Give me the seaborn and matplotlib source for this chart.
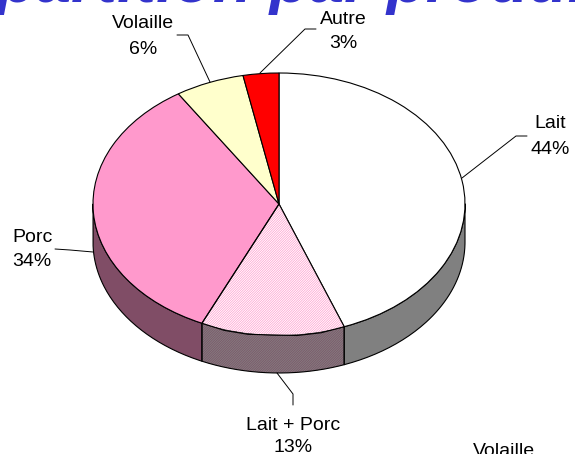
import numpy as np
import matplotlib
matplotlib.use('Agg')
import matplotlib.pyplot as plt
import seaborn as sns

sns.set_theme(style='white')
plt.rcParams['font.family'] = ['Liberation Sans', 'DejaVu Sans']
plt.rcParams['hatch.linewidth'] = 0.5

categories = ['Lait', 'Lait + Porc', 'Porc', 'Volaille', 'Autre']
values = [44.3, 12.5, 34.1, 6.0, 3.1]
pct_labels = ['44%', '13%', '34%', '6%', '3%']
top_colors = ['#FFFFFF', '#FFFFFF', '#FF99CC', '#FFFFCC', '#FF0000']
side_colors = ['#808080', '#808080', '#804D66', '#808066', '#800000']
hatch_colors = [None, '#FF99CC', None, None, None]
side_hatch_colors = [None, '#804D66', None, None, None]

W, H = 575, 454
cx, cy, rx, ry, depth = 279, 204, 186, 131, 38
dz = depth / ry
dense = '/' * 14

fig = plt.figure(figsize=(W / 100, H / 100), dpi=100)
ax = fig.add_axes([0, 0, 1, 1])


def px(x, y):
    return (x - cx) / rx, (cy - y) / ry


# side wall, only the front half is visible
ends = np.cumsum(values) / sum(values) * 360
starts = np.r_[0, ends[:-1]]
for a0, a1, c, hc in zip(starts, ends, side_colors, side_hatch_colors):
    a0, a1 = max(a0, 90), min(a1, 270)
    if a1 <= a0:
        continue
    t = np.radians(np.linspace(a0, a1, 80))
    xs = np.r_[np.sin(t), np.sin(t)[::-1]]
    ys = np.r_[np.cos(t), np.cos(t)[::-1] - dz]
    ax.fill(xs, ys, facecolor=c, edgecolor=hc if hc else c, hatch=dense if hc else None, lw=0, zorder=1)
    ax.plot(np.r_[xs, xs[0]], np.r_[ys, ys[0]], color='black', lw=0.8, zorder=2)

wedges, _ = ax.pie(values, startangle=90, counterclock=False, colors=top_colors, radius=1,
                   center=(0, 0), wedgeprops={'edgecolor': 'black', 'linewidth': 0.8, 'zorder': 3})
for w, hc in zip(wedges, hatch_colors):
    if hc:
        w.set_hatch(dense)
        w.set_edgecolor(hc)
        w.set_linewidth(0)
        outline = plt.Polygon(w.get_path().vertices, closed=True, fill=False, edgecolor='black', lw=0.8, zorder=4)
        ax.add_patch(outline)

ax.set_aspect('auto')
ax.set_xlim(-cx / rx, (W - cx) / rx)
ax.set_ylim((cy - H) / ry, cy / ry)
ax.axis('off')

# leader lines
leaders = [
    [(462, 178), (516, 136), (527, 136)],
    [(277, 373), (293, 394), (293, 405)],
    [(93, 252), (70, 250), (55, 249)],
    [(210, 82), (188, 35), (177, 35)],
    [(260, 73), (305, 29), (316, 29)],
]
for pts in leaders:
    xy = np.array([px(*p) for p in pts])
    ax.plot(xy[:, 0], xy[:, 1], color='black', lw=0.7, zorder=5)


def txt(x, y, s):
    fig.text(x / W, 1 - y / H, s, ha='center', va='center', color='black', fontsize=14)


label_pos = [(550, 123, 149), (293, 425, 448), (32, 238, 262), (143, 23, 49), (343, 20, 43)]
for name, pct, (x, y1, y2) in zip(categories, pct_labels, label_pos):
    txt(x, y1, name)
    txt(x, y2, pct)
txt(504, 452, 'Volaille')

fig.text(261 / W, 1 - 2 / H, 'Répartition par produit', ha='center', va='baseline', color='#3333CC',
         fontsize=46, fontstyle='italic', fontweight='bold')

fig.savefig('out.png', dpi=100)
